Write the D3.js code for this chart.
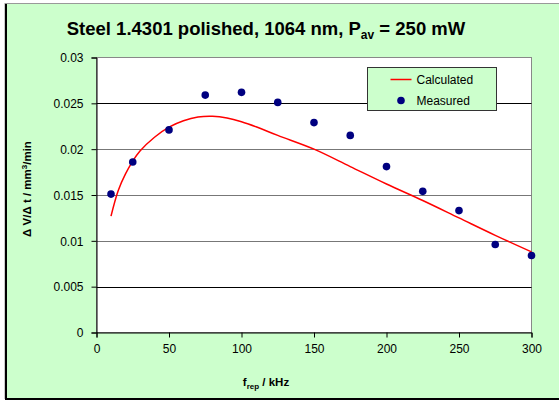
<!DOCTYPE html>
<html>
<head>
<meta charset="utf-8">
<script src="https://cdn.jsdelivr.net/npm/d3@7"></script>
<style>
  body { margin: 0; background: #fff; }
  text { font-family: Arial, "Liberation Sans", sans-serif; }
</style>
</head>
<body>
<div id="chart"></div>
<script>
// measured points
const measFreq = [10, 25, 50, 75, 100, 125, 150, 175, 200, 225, 250, 275, 300];
const measRate = [0.0151, 0.0186, 0.0221, 0.0259, 0.0262, 0.0251, 0.0229, 0.0215, 0.0181, 0.0154, 0.0133, 0.0096, 0.0084];

// calculated curve
const calcFreq = [10, 15, 20, 25, 30, 40, 50, 60, 70, 80, 90, 100, 110, 125, 150, 175, 200, 225, 250, 275, 300];
const calcRate = [0.0127, 0.0155, 0.0173, 0.0187, 0.0198, 0.0213, 0.0224, 0.0231, 0.02350, 0.02358, 0.02340, 0.02300, 0.02245, 0.0215, 0.0200, 0.0181, 0.0162, 0.0144, 0.0125, 0.0106, 0.0088];

const xTicks = [0, 50, 100, 150, 200, 250, 300];
const yTicks = [0, 0.005, 0.01, 0.015, 0.02, 0.025, 0.03];

const W = 559, H = 401;
const plot = { left: 96.5, right: 531.5, top: 57.5, bottom: 332.5 };

const svg = d3.select('#chart').append('svg')
    .attr('width', W)
    .attr('height', H);

// chart area background (frame runs off the right edge like the original)
svg.append('rect')
    .attr('x', 5).attr('y', 3.5)
    .attr('width', 600).attr('height', 395)
    .attr('fill', '#CCFFCC')
    .attr('stroke', '#999');
svg.append('line')
    .attr('x1', 6).attr('x2', 6).attr('y1', 4).attr('y2', 400)
    .attr('stroke', '#000').attr('stroke-width', 2);
svg.append('line')
    .attr('x1', 5).attr('x2', W).attr('y1', 399).attr('y2', 399)
    .attr('stroke', '#000').attr('stroke-width', 2);

const x = d3.scaleLinear().domain([0, 300]).range([plot.left, plot.right]);
const y = d3.scaleLinear().domain([0, 0.03]).range([plot.bottom, plot.top]);

// plot area
svg.append('rect')
    .attr('x', plot.left).attr('y', plot.top)
    .attr('width', plot.right - plot.left).attr('height', plot.bottom - plot.top)
    .attr('fill', '#fff')
    .attr('stroke', '#888');

// gridlines (some render darker in the original)
svg.append('g').selectAll('line')
    .data(yTicks.filter(d => d > 0 && d < 0.03))
    .enter().append('line')
    .attr('x1', plot.left).attr('x2', plot.right)
    .attr('y1', d => Math.round(y(d)) + 0.5).attr('y2', d => Math.round(y(d)) + 0.5)
    .attr('stroke', d => (Math.abs(d - 0.025) < 1e-9 || Math.abs(d - 0.005) < 1e-9) ? '#000' : '#777')
    .attr('stroke-width', 1);

// axes
const xAxis = svg.append('g')
    .attr('transform', `translate(0,${plot.bottom})`)
    .call(d3.axisBottom(x).tickValues(xTicks).tickSize(5).tickPadding(7).tickFormat(d3.format('d')));
const yAxis = svg.append('g')
    .attr('transform', `translate(${plot.left},0)`)
    .call(d3.axisLeft(y).tickValues(yTicks).tickSize(5).tickPadding(8).tickFormat(d => d === 0 ? '0' : String(+d.toFixed(3))));

[xAxis, yAxis].forEach(a => {
    a.select('.domain').attr('stroke', '#000');
    a.selectAll('.tick line').attr('stroke', '#000');
    a.selectAll('.tick text')
        .attr('fill', '#000')
        .style('font-size', '12px')
        .style('font-family', 'Arial, "Liberation Sans", sans-serif');
});
yAxis.selectAll('.tick text').attr('dy', '0.35em');

// calculated line
const line = d3.line()
    .x((d, i) => x(calcFreq[i]))
    .y((d, i) => y(calcRate[i]))
    .curve(d3.curveCatmullRom);

svg.append('path')
    .datum(calcRate)
    .attr('d', line)
    .attr('fill', 'none')
    .attr('stroke', '#FF0000')
    .attr('stroke-width', 1.5);

// measured dots
svg.append('g').selectAll('circle')
    .data(measRate)
    .enter().append('circle')
    .attr('cx', (d, i) => x(measFreq[i]))
    .attr('cy', d => y(d))
    .attr('r', 3.8)
    .attr('fill', '#000080');

// title
const title = svg.append('text')
    .attr('x', 266).attr('y', 35)
    .attr('text-anchor', 'middle')
    .attr('font-size', '18.5px')
    .attr('font-weight', 'bold');
title.append('tspan').text('Steel 1.4301 polished, 1064 nm, P');
title.append('tspan').attr('font-size', '12px').attr('dy', 4).text('av');
title.append('tspan').attr('dy', -4).text(' = 250 mW');

// x label
const xl = svg.append('text')
    .attr('x', 266).attr('y', 386)
    .attr('text-anchor', 'middle')
    .attr('font-size', '11.5px')
    .attr('font-weight', 'bold');
xl.append('tspan').text('f');
xl.append('tspan').attr('font-size', '8px').attr('dy', 3).text('rep');
xl.append('tspan').attr('dy', -3).text(' / kHz');

// y label
const yl = svg.append('text')
    .attr('transform', 'translate(31,189) rotate(-90)')
    .attr('text-anchor', 'middle')
    .attr('font-size', '11.5px')
    .attr('font-weight', 'bold');
yl.append('tspan').text('\u0394 V/\u0394 t / mm');
yl.append('tspan').attr('font-size', '8px').attr('dy', -4).text('3');
yl.append('tspan').attr('dy', 4).text('/min');

// legend
const lg = svg.append('g').attr('transform', 'translate(367.5,67.5)');
lg.append('rect')
    .attr('width', 129).attr('height', 43)
    .attr('fill', '#CCFFCC')
    .attr('stroke', '#333');
lg.append('line')
    .attr('x1', 23).attr('x2', 44).attr('y1', 12).attr('y2', 12)
    .attr('stroke', '#FF0000').attr('stroke-width', 1.5);
lg.append('text')
    .attr('x', 49).attr('y', 16)
    .attr('font-size', '12px')
    .text('Calculated');
lg.append('circle')
    .attr('cx', 33.5).attr('cy', 33)
    .attr('r', 3.8)
    .attr('fill', '#000080');
lg.append('text')
    .attr('x', 49).attr('y', 37.5)
    .attr('font-size', '12px')
    .text('Measured');
</script>
</body>
</html>
